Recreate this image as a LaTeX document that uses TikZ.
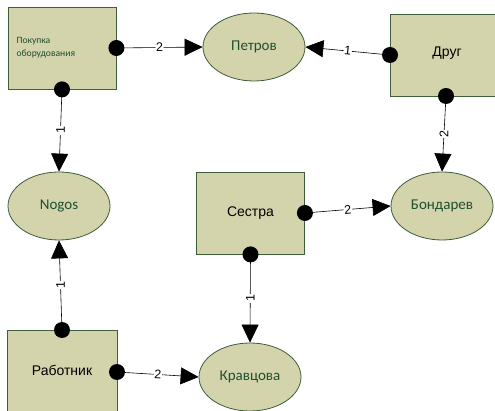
\documentclass[tikz,border=0pt]{standalone}
\usepackage{fontspec}
\setmainfont{Liberation Sans}
\newfontfamily\calfont{Carlito}
\usetikzlibrary{shapes.geometric,arrows.meta}
\definecolor{fillc}{HTML}{D3D3AC}
\definecolor{borderc}{HTML}{3E5E3A}
\definecolor{ltext}{HTML}{1F4F2F}
\tikzset{
  ent/.style={rectangle, draw=borderc, fill=fillc, line width=0.8pt, minimum width=108pt, minimum height=82pt, inner sep=0pt, font=\fontsize{14}{16}\selectfont},
  ell/.style={ellipse, draw=borderc, fill=fillc, line width=0.8pt, minimum width=102pt, minimum height=68pt, inner sep=0pt, text=ltext, font=\calfont\fontsize{15}{17}\selectfont},
  conn/.style={line width=0.6pt, -{Triangle[length=18pt,width=17pt]}},
  dotc/.style={circle, fill=black, minimum size=16pt, inner sep=0pt},
  lbl/.style={fill=white, inner sep=0.6pt, font=\fontsize{12.5}{13}\selectfont}
}
\begin{document}
\begin{tikzpicture}[x=1pt,y=-1pt]
\useasboundingbox (0,0) rectangle (495,411);
\clip (0,0) rectangle (495,411);
% entities
\node[ent] (pok) at (62,48) {};
\node[anchor=west, align=left, text=ltext, font=\calfont\fontsize{9.6}{13}\selectfont] (poktext) at (13,48) {Покупка\\оборудования};
\node[ent] (drug) at (444,55) {};
\node[font=\fontsize{14}{16}\selectfont] (drugtext) at (447,53) {Друг};
\node[ent] (sestra) at (250.5,213) {Сестра};
\node[ent, minimum width=110pt, minimum height=84pt] (rab) at (62,372) {};
\node[font=\fontsize{14}{16}\selectfont] (rabtext) at (62,370) {Работник};
% ellipses
\node[ell] (petrov) at (254,47) {Петров};
\node[ell] (nogos) at (59,206) {Nogos};
\node[ell] (bond) at (442,206) {Бондарев};
\node[ell] (krav) at (250,377) {Кравцова};
% anchors for dots
\coordinate (pokE) at (pok.east);
\coordinate (pokS) at (pok.south);
\coordinate (drugW) at (390,55);
\coordinate (drugS) at (446,96);
\coordinate (sesE) at (sestra.east);
\coordinate (sesS) at (sestra.south);
\coordinate (rabN) at (62,330);
\coordinate (rabE) at (117,372);
% connectors
\draw[conn] (pokE) -- node[lbl, sloped] {2} (petrov.west);
\draw[conn] (pokS) -- node[lbl, rotate=90] {1} (nogos.north);
\draw[conn] (drugW) -- node[lbl, sloped] {1} (petrov.east);
\draw[conn] (drugS) -- node[lbl, rotate=90] {2} (bond.north);
\draw[conn] (sesE) -- node[lbl, sloped] {2} (bond.west);
\draw[conn] (sesS) -- node[lbl, rotate=90] {1} (krav.north);
\draw[conn] (rabN) -- node[lbl, rotate=90] {1} (nogos.south);
\draw[conn] (rabE) -- node[lbl, sloped] {2} (krav.west);
% dots
\foreach \c in {pokE,pokS,drugW,drugS,sesE,sesS,rabN,rabE}
  \node[dotc] (dot-\c) at (\c) {};
\end{tikzpicture}
\end{document}
